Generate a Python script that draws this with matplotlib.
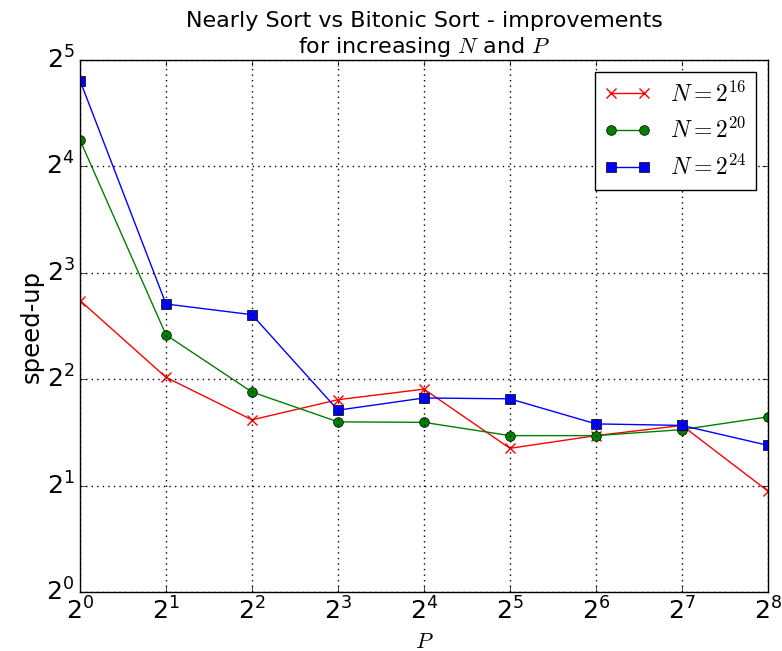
import matplotlib
matplotlib.use("Agg")
import matplotlib.pyplot as plt
from matplotlib.ticker import LogLocator, NullLocator, LogFormatterSciNotation

plt.style.use('classic')
plt.rcParams['mathtext.fontset'] = 'cm'
plt.rcParams['font.family'] = ['DejaVu Sans']

P = [1, 2, 4, 8, 16, 32, 64, 128, 256]
speedup_n16 = [6.68, 4.05, 3.07, 3.50, 3.75, 2.55, 2.77, 2.96, 1.93]
speedup_n20 = [19.0, 5.34, 3.68, 3.03, 3.02, 2.77, 2.77, 2.88, 3.13]
speedup_n24 = [28.0, 6.53, 6.09, 3.27, 3.54, 3.52, 2.99, 2.96, 2.60]
labels = [r'$N=2^{16}$', r'$N=2^{20}$', r'$N=2^{24}$']

fig = plt.figure(figsize=(7.82, 6.51), dpi=100, facecolor='white')
ax = fig.add_axes([0.1023, 0.0906, 0.8797, 0.8172])
ax.set_facecolor('white')

ax.plot(P, speedup_n16, color='r', marker='x', markersize=7, mew=1, linewidth=1.0, label=labels[0])
ax.plot(P, speedup_n20, color='g', marker='o', markersize=7, linewidth=1.0, label=labels[1])
ax.plot(P, speedup_n24, color='b', marker='s', markersize=7, linewidth=1.0, label=labels[2])

ax.set_xscale('log', base=2)
ax.set_yscale('log', base=2)
ax.set_xlim(1, 256)
ax.set_ylim(1, 32)
ax.xaxis.set_major_locator(LogLocator(base=2))
ax.yaxis.set_major_locator(LogLocator(base=2))
ax.xaxis.set_minor_locator(NullLocator())
ax.yaxis.set_minor_locator(NullLocator())
ax.xaxis.set_major_formatter(LogFormatterSciNotation(base=2))
ax.yaxis.set_major_formatter(LogFormatterSciNotation(base=2))
ax.tick_params(axis='both', which='major', labelsize=18, direction='in')
ax.grid(True, linestyle=':', color='black', linewidth=1.0)

ax.set_xlabel(r'$P$', fontsize=16)
ax.set_ylabel('speed-up', fontsize=17.5, labelpad=2)
ax.set_title('Nearly Sort vs Bitonic Sort - improvements\nfor increasing $N$ and $P$', fontsize=16)

leg = ax.legend(loc='upper right', fontsize=17, numpoints=2, fancybox=False)
leg.get_frame().set_edgecolor('black')

fig.savefig('out.png', dpi=100, facecolor='white')
